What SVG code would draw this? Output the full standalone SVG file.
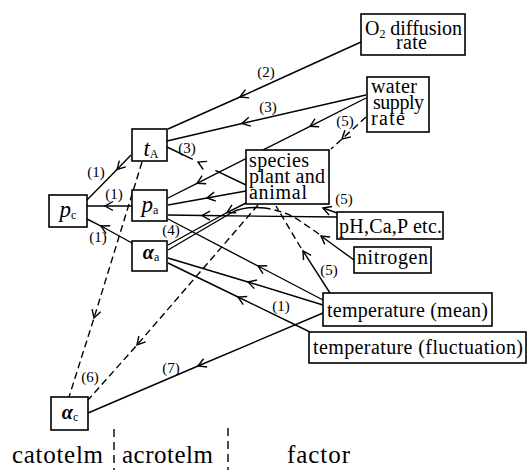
<svg xmlns="http://www.w3.org/2000/svg" width="527" height="470" viewBox="0 0 527 470">
<style>
.box{fill:#fff;stroke:#000;stroke-width:1.6}
.ln{fill:none;stroke:#000;stroke-width:1.4}
.arr{marker-mid:url(#ah)}
.arre{marker-end:url(#ah)}
.dash{stroke-dasharray:7 4}
.t{font-family:"Liberation Serif","Times New Roman",serif;font-size:20px;fill:#000}
.num{font-size:15px;text-anchor:middle}
.big{font-size:25px;text-anchor:middle}
.m{font-size:23px;font-style:italic;text-anchor:middle}
.g{font-weight:bold}
.sub{font-size:12px;font-style:normal}
</style>
<defs>
<marker id="ah" markerUnits="userSpaceOnUse" markerWidth="20" markerHeight="20" viewBox="-10 -10 20 20" refX="0" refY="0" orient="auto">
<path d="M-8,-4.5 L0,0 L-8,4.5" fill="none" stroke="#000" stroke-width="1.4"/>
</marker>
</defs>
<g id="connectors">
<polyline class="ln arr" points="361,42 240,97 168,129"/>
<polyline class="ln arr" points="366,95 242,123.5 167,141"/>
<polyline class="ln arr" points="366,98 310,126.3 197,183.3 167,198.5"/>
<polyline class="ln arr dash" points="366,117 342,139 331,149"/>
<polyline class="ln arr" points="246,185 198,162 167,147" style="stroke-dasharray:34 25 40"/>
<polyline class="ln arr" points="246,191 207,198 168,205"/>
<polyline class="ln arr" points="337,217 202,215.5 168,215"/>
<polyline class="ln arre" points="337,213 323,208"/>
<polyline class="ln arre" points="354,260 321,236"/>
<path class="ln dash" d="M319,234 L300,221 Q288,212 265,208"/>
<path class="ln" d="M265,208 Q243,206 231,213 L168,250"/>
<polyline class="ln arr" points="246,203 227,212.5 168,245"/>
<polyline class="ln arre" points="330,293 303,251"/>
<path class="ln dash" d="M301,248 L276,206"/>
<polyline class="ln arr" points="323,300 258,266 168,219"/>
<polyline class="ln arr" points="323,305 248,282 168,258"/>
<polyline class="ln arr" points="310,332 238,297 168,263"/>
<polyline class="ln arr" points="323,313 198,366 88,413"/>
<polyline class="ln arr dash" points="258,205 137,345 88,400"/>
<polyline class="ln arr dash" points="142,162 94,318 69,397"/>
<polyline class="ln arr" points="131,155 117,169.5 87,200"/>
<polyline class="ln arr" points="132,206 105,206 87,206"/>
<polyline class="ln arr" points="132,243 101,226 87,219"/>
<line class="ln" x1="114" y1="429" x2="114" y2="470" style="stroke-dasharray:8 5"/>
<line class="ln" x1="228" y1="428" x2="228" y2="470" style="stroke-dasharray:8 5"/>
</g>
<g id="labels">
<text class="t num" x="266" y="77">(2)</text>
<text class="t num" x="268" y="112">(3)</text>
<text class="t num" x="187" y="153">(3)</text>
<text class="t num" x="345" y="126">(5)</text>
<text class="t num" x="344" y="204">(5)</text>
<text class="t num" x="329" y="275">(5)</text>
<text class="t num" x="281" y="311">(1)</text>
<text class="t num" x="96" y="177">(1)</text>
<text class="t num" x="114" y="199">(1)</text>
<text class="t num" x="98" y="242">(1)</text>
<text class="t num" x="171" y="235">(4)</text>
<text class="t num" x="90" y="382">(6)</text>
<text class="t num" x="171" y="373">(7)</text>
<text class="t big" x="57.5" y="463" textLength="91">catotelm</text>
<text class="t big" x="167.5" y="463" textLength="91">acrotelm</text>
<text class="t big" x="318.5" y="463" textLength="63">factor</text>
</g>
<g id="node-tA">
<rect class="box" x="132" y="129" width="35" height="32"/>
<text class="t m" x="151" y="156">t<tspan class="sub" dy="2">A</tspan></text>
</g>
<g id="node-pc">
<rect class="box" x="49" y="195" width="38" height="32"/>
<text class="t m" x="68" y="217">p<tspan class="sub" dy="2">c</tspan></text>
</g>
<g id="node-pa">
<rect class="box" x="132" y="190" width="35" height="31"/>
<text class="t m" x="150" y="212">p<tspan class="sub" dy="2">a</tspan></text>
</g>
<g id="node-alpha-a">
<rect class="box" x="132" y="241" width="35" height="30"/>
<text class="t m g" x="151" y="259" style="font-size:20px">α<tspan class="sub" dy="2" style="font-weight:normal">a</tspan></text>
</g>
<g id="node-alpha-c">
<rect class="box" x="51" y="397" width="37" height="33"/>
<text class="t m g" x="70" y="419" style="font-size:20px">α<tspan class="sub" dy="2" style="font-weight:normal">c</tspan></text>
</g>
<g id="node-o2">
<rect class="box" x="361" y="14" width="104" height="41"/>
<text class="t" x="365" y="35" textLength="97">O<tspan font-size="12" dy="3">2</tspan><tspan dy="-3"> diffusion</tspan></text>
<text class="t" x="396" y="49" textLength="31">rate</text>
</g>
<g id="node-water">
<rect class="box" x="367" y="77" width="62" height="55"/>
<text class="t" x="371" y="93" textLength="46">water</text>
<text class="t" x="373" y="109" textLength="51">supply</text>
<text class="t" x="371" y="125" textLength="34">rate</text>
</g>
<g id="node-species">
<rect class="box" x="246" y="150" width="83" height="54"/>
<text class="t" x="249" y="167" textLength="60">species</text>
<text class="t" x="249" y="183" textLength="76">plant and</text>
<text class="t" x="249" y="199" textLength="58">animal</text>
</g>
<g id="node-ph">
<rect class="box" x="337" y="212" width="106" height="27"/>
<text class="t" x="339" y="233" textLength="103">pH,Ca,P etc.</text>
</g>
<g id="node-nitrogen">
<rect class="box" x="354" y="247" width="77" height="26"/>
<text class="t" x="357" y="264" textLength="71">nitrogen</text>
</g>
<g id="node-temp-mean">
<rect class="box" x="323" y="293" width="169" height="33"/>
<text class="t" x="327" y="317" textLength="161">temperature (mean)</text>
</g>
<g id="node-temp-fluct">
<rect class="box" x="309" y="332" width="217" height="31"/>
<text class="t" x="313" y="354" textLength="210">temperature (fluctuation)</text>
</g>
</svg>
